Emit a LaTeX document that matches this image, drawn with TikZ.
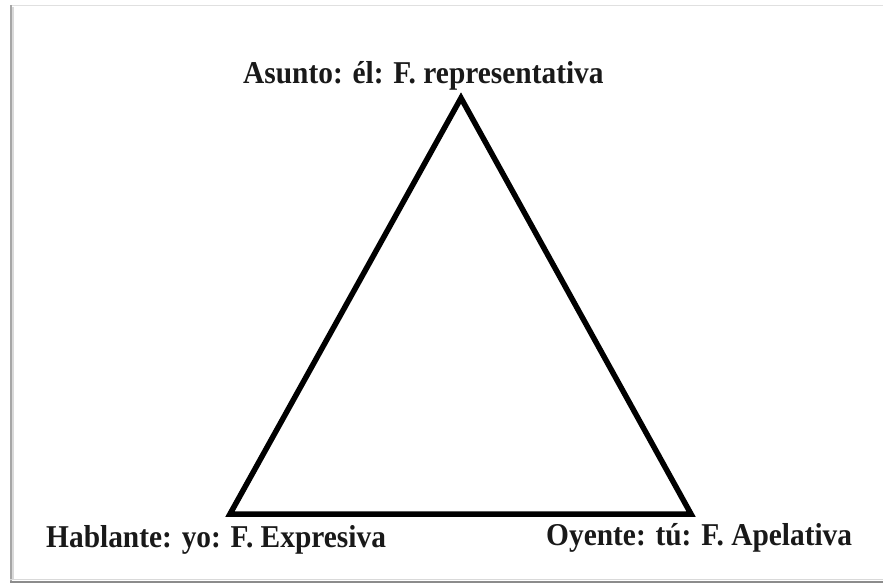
\documentclass[tikz,border=0pt]{standalone}
\usepackage{fontspec}
\setmainfont{Liberation Serif}
\newcommand{\tall}[1]{\scalebox{1}[1.08]{#1}}
\begin{document}
\begin{tikzpicture}[x=1pt,y=-1pt,
  lbl/.style={anchor=base west, inner sep=0pt, font=\bfseries\fontsize{29.4}{34}\selectfont, text=black!90},
  edge/.style={line width=5.5pt, line join=miter, black}]
\useasboundingbox (0,0) rectangle (883,586);
% frame
\draw[black!12, line width=1.5pt] (10,5.5) -- (883,5.5);
\draw[black!35, line width=2pt] (10.5,5) -- (10.5,582);
\draw[black!15, line width=2pt] (12.5,7) -- (12.5,580);
\draw[black!45, line width=2.5pt] (10,582) -- (883,582);
\draw[black!15, line width=1.5pt] (10,579.5) -- (883,579.5);
% triangle
\coordinate (T) at (461,98);
\coordinate (L) at (230,514);
\coordinate (R) at (691,514);
\draw[edge] (T) -- (R) -- (L) -- cycle;
% labels
\node[lbl] (asunto) at (243,84) {\tall{Asunto: él: F. representativa}};
\node[lbl] (hablante) at (46,547) {\tall{Hablante: yo: F. Expresiva}};
\node[lbl] (oyente) at (546,545) {\tall{Oyente: tú: F. Apelativa}};
\end{tikzpicture}
\end{document}
